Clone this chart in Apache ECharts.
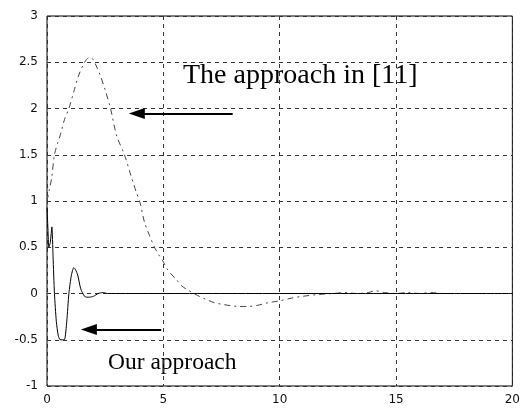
<!DOCTYPE html>
<html><head><meta charset="utf-8">
<script src="https://cdn.jsdelivr.net/npm/echarts@6/dist/echarts.min.js"></script>
<style>html,body{margin:0;padding:0;background:#fff}#c{width:523px;height:408px}</style>
</head><body><div id="c"></div>
<script>
// The approach in [11] (dash-dot curve)
const refX = [0,0.1,0.2,0.32,0.45,0.58,0.75,0.94,1.15,1.35,1.55,1.7,1.82,1.95,2.1,2.3,2.5,2.73,3.0,3.33,3.6,3.83,4.0,4.19,4.4,4.62,4.8,4.96,5.2,5.56,5.8,6.1,6.46,6.8,7.2,7.6,8.0,8.26,8.6,9.0,9.5,9.98,10.5,11.0,11.7,12.3,12.8,13.3,13.8,14.1,14.5,15.0,15.5,16.0,16.5,17.0,17.4];
const refY = [1.0,1.12,1.25,1.5,1.62,1.72,1.88,2.0,2.18,2.35,2.47,2.53,2.55,2.54,2.47,2.35,2.2,2.0,1.7,1.5,1.28,1.1,0.98,0.77,0.63,0.5,0.42,0.36,0.25,0.15,0.08,0.03,-0.02,-0.06,-0.1,-0.12,-0.135,-0.14,-0.14,-0.13,-0.1,-0.08,-0.05,-0.03,-0.01,0.0,0.01,0.0,0.01,0.03,0.01,0.0,0.01,0.0,0.01,0.0,0.0];
// Our approach (solid curve)
const oursX = [0,0.04,0.08,0.14,0.21,0.26,0.32,0.4,0.48,0.56,0.65,0.75,0.85,0.94,1.05,1.15,1.22,1.32,1.45,1.61,1.72,1.82,2.0,2.2,2.4,2.6,20];
const oursY = [0.93,0.7,0.5,0.55,0.72,0.4,0.0,-0.3,-0.45,-0.5,-0.5,-0.5,-0.3,0.0,0.2,0.28,0.26,0.2,0.05,-0.03,-0.04,-0.04,-0.03,0.0,0.01,0.0,0.0];
// Axis ticks
const xTicks = [0,5,10,15,20];
const yTicks = [-1,-0.5,0,0.5,1,1.5,2,2.5,3];
// Annotation labels and arrows (data coordinates)
const labelRef = "The approach in [11]";
const labelOurs = "Our approach";
const arrowRef = [[7.98,1.947],[3.86,1.947]];
const arrowOurs = [[4.91,-0.39],[1.80,-0.39]];

const zip = (a,b)=>a.map((v,i)=>[v,b[i]]);
const chart = echarts.init(document.getElementById('c'), null, {renderer:'canvas'});
const gridLine = {show:true, lineStyle:{color:'#333', type:[4,4], width:1}};
const axLabel = {color:'#111', fontSize:12, fontFamily:'"DejaVu Sans", sans-serif'};
const arrowLine = (pts)=>[{coord:pts[0], symbol:'none'},{coord:pts[1], symbol:'triangle', symbolSize:[11,16]}];
chart.setOption({
  animation:false,
  grid:{left:47,right:10,top:16,bottom:22,show:true,borderColor:'#000',borderWidth:1,containLabel:false},
  xAxis:{type:'value',min:xTicks[0],max:xTicks[xTicks.length-1],interval:5,
    axisLine:{show:false},axisTick:{show:false},
    axisLabel:Object.assign({margin:8},axLabel),splitLine:gridLine},
  yAxis:{type:'value',min:yTicks[0],max:yTicks[yTicks.length-1],interval:0.5,
    axisLine:{show:false},axisTick:{show:false},
    axisLabel:Object.assign({margin:9},axLabel),splitLine:gridLine},
  series:[
    {type:'line',data:zip(refX,refY),showSymbol:false,smooth:0.3,
      lineStyle:{color:'#444',width:1,type:[6,4,2,4]},z:3},
    {type:'line',data:zip(oursX,oursY),showSymbol:false,smooth:0.2,
      lineStyle:{color:'#000',width:1},z:4,
      markLine:{silent:true,animation:false,label:{show:false},
        lineStyle:{color:'#000',width:2,type:'solid'},
        symbol:['none','triangle'],
        data:[arrowLine(arrowRef),arrowLine(arrowOurs)]}}
  ],
  graphic:[
    {type:'text',left:183,top:62,style:{text:labelRef,font:'28px "Liberation Serif", serif',fill:'#000'}},
    {type:'text',left:108,top:351,style:{text:labelOurs,font:'23.5px "Liberation Serif", serif',fill:'#000'}}
  ]
});
</script></body></html>
